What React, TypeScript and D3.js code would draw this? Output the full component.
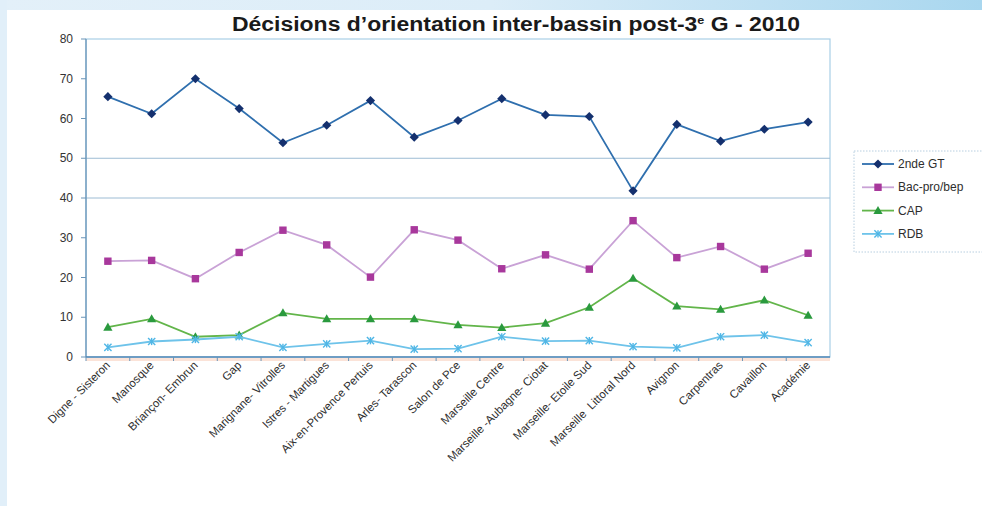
import React from "react";
import * as d3 from "d3";

const categories = [
  "Digne - Sisteron", "Manosque", "Briançon- Embrun", "Gap", "Marignane- Vitrolles",
  "Istres - Martigues", "Aix-en-Provence Pertuis", "Arles- Tarascon", "Salon de Pce",
  "Marseille Centre", "Marseille -Aubagne- Ciotat", "Marseille- Etoile Sud",
  "Marseille  Littoral Nord", "Avignon", "Carpentras", "Cavaillon", "Académie",
];
const seconde = [65.5, 61.2, 70.0, 62.5, 53.9, 58.3, 64.5, 55.3, 59.5, 65.0, 60.9, 60.5, 41.8, 58.5, 54.3, 57.3, 59.1];
const bacpro = [24.1, 24.3, 19.7, 26.3, 31.9, 28.2, 20.1, 32.0, 29.4, 22.2, 25.7, 22.1, 34.3, 25.0, 27.8, 22.1, 26.1];
const cap = [7.5, 9.6, 5.1, 5.5, 11.1, 9.6, 9.6, 9.6, 8.1, 7.4, 8.5, 12.5, 19.8, 12.8, 12.0, 14.3, 10.5];
const rdb = [2.4, 3.9, 4.4, 5.1, 2.4, 3.3, 4.1, 2.0, 2.1, 5.1, 4.0, 4.1, 2.6, 2.3, 5.1, 5.5, 3.6];
const yTicks = [0, 10, 20, 30, 40, 50, 60, 70, 80];
const gridValues = [40, 50];

const series = [
  { name: "2nde GT", values: seconde, line: "#2f6fae", marker: "#14306e", shape: "diamond" },
  { name: "Bac-pro/bep", values: bacpro, line: "#c9a2d6", marker: "#a8389c", shape: "square" },
  { name: "CAP", values: cap, line: "#62b54a", marker: "#2a9a3e", shape: "triangle" },
  { name: "RDB", values: rdb, line: "#6ec3ea", marker: "#4fb6e6", shape: "star" },
];

const W = 982, H = 506;
const left = 86, right = 830, top = 39, bottom = 357;

function Marker({ shape, x, y, color }: { shape: string; x: number; y: number; color: string }) {
  if (shape === "diamond") {
    const s = 4.6;
    return <path d={`M${x},${y - s}L${x + s},${y}L${x},${y + s}L${x - s},${y}Z`} fill={color} />;
  }
  if (shape === "square") {
    const s = 3.7;
    return <rect x={x - s} y={y - s} width={2 * s} height={2 * s} fill={color} />;
  }
  if (shape === "triangle") {
    const s = 4.6;
    return <path d={`M${x},${y - s}L${x + s},${y + s * 0.75}L${x - s},${y + s * 0.75}Z`} fill={color} />;
  }
  const s = 3.6;
  return (
    <g stroke={color} strokeWidth={1.4}>
      <line x1={x - s} y1={y - s} x2={x + s} y2={y + s} />
      <line x1={x - s} y1={y + s} x2={x + s} y2={y - s} />
      <line x1={x} y1={y - s} x2={x} y2={y + s} />
    </g>
  );
}

export default function App() {
  const x = d3.scaleBand<string>().domain(categories).range([left, right]).padding(0);
  const y = d3.scaleLinear().domain([0, 80]).range([bottom, top]);
  const cx = (c: string) => (x(c) as number) + x.bandwidth() / 2;
  const line = d3.line<number>().x((_, i) => cx(categories[i])).y((v) => y(v));
  const font = "'Liberation Sans', Arial, sans-serif";

  return (
    <svg width={W} height={H} style={{ position: "absolute", left: 0, top: 0, background: "#fff" }}>
      <defs>
        <linearGradient id="topg" x1="0" x2="1" y1="0" y2="0">
          <stop offset="0" stopColor="#e3f0f9" />
          <stop offset="0.5" stopColor="#dcedf8" />
          <stop offset="1" stopColor="#a9d7ef" />
        </linearGradient>
      </defs>
      <rect x={0} y={0} width={W} height={H} fill="#fff" />
      <rect x={0} y={0} width={W} height={10} fill="url(#topg)" />
      <rect x={0} y={0} width={7} height={H} fill="#e1eff9" />

      {/* plot frame */}
      <rect x={left} y={top} width={right - left} height={bottom - top} fill="#fff" stroke="#a9cfe6" strokeWidth={1.2} />
      {gridValues.map((g) => (
        <line key={g} x1={left} x2={right} y1={y(g)} y2={y(g)} stroke="#9dbcd4" strokeWidth={1} />
      ))}
      {/* axes */}
      <line x1={left} x2={left} y1={top} y2={bottom} stroke="#6a95b8" strokeWidth={1.3} />
      <line x1={left} x2={right} y1={bottom} y2={bottom} stroke="#4f86b6" strokeWidth={1.5} />
      <rect x={left} y={bottom + 1} width={right - left} height={3} fill="#fbe3d8" />
      {yTicks.map((t) => (
        <g key={t}>
          <line x1={left - 5} x2={left} y1={y(t)} y2={y(t)} stroke="#6a95b8" />
          <text x={73} y={y(t) + 4} textAnchor="end" fontFamily={font} fontSize={12} fill="#333">{t}</text>
        </g>
      ))}
      {categories.map((c) => (
        <line key={c} x1={x(c) as number} x2={x(c) as number} y1={bottom} y2={bottom + 4} stroke="#6a95b8" />
      ))}
      {categories.map((c) => (
        <text key={c} transform={`translate(${cx(c) + 3},${bottom + 9}) rotate(-45)`} textAnchor="end"
          fontFamily={font} fontSize={11.5} fill="#2e2e2e" style={{ whiteSpace: "pre" }}>{c}</text>
      ))}

      {series.map((s) => (
        <g key={s.name}>
          <path d={line(s.values) || ""} fill="none" stroke={s.line} strokeWidth={1.8} />
          {s.values.map((v, i) => (
            <Marker key={i} shape={s.shape} x={cx(categories[i])} y={y(v)} color={s.marker} />
          ))}
        </g>
      ))}

      {/* legend */}
      <rect x={854} y={151} width={140} height={101} fill="#fff" stroke="#b8cfe0" strokeDasharray="1.5,1.5" />
      {series.map((s, i) => {
        const ly = 164 + i * 23.3;
        return (
          <g key={s.name}>
            <line x1={862} x2={894} y1={ly} y2={ly} stroke={s.line} strokeWidth={1.8} />
            <Marker shape={s.shape} x={878} y={ly} color={s.marker} />
            <text x={898} y={ly + 4} fontFamily={font} fontSize={12} fill="#2e2e2e">{s.name}</text>
          </g>
        );
      })}

      {/* title */}
      <text x={232} y={31} fontFamily="'Liberation Sans Narrow', 'Liberation Sans', Arial, sans-serif" fontWeight="bold"
        fontSize={20} fill="#1a1a1a" textLength={568} lengthAdjust="spacingAndGlyphs">
        Décisions d’orientation inter-bassin post-3<tspan fontSize={11} dy={-7}>e</tspan><tspan dy={7}> G - 2010</tspan>
      </text>
    </svg>
  );
}
